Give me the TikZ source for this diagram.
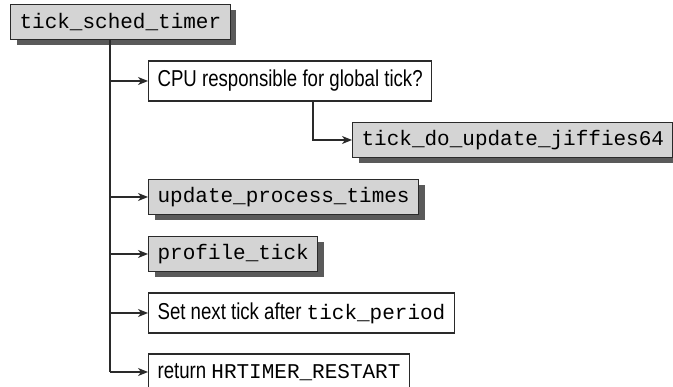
\documentclass[tikz,border=0pt]{standalone}
\usepackage{fontspec}
\setmonofont{Liberation Mono}
\newfontfamily\narrowsf[FakeStretch=0.81]{Liberation Sans}
\usetikzlibrary{positioning,arrows.meta,shadows,calc}
\definecolor{tboxgray}{HTML}{D4D4D4}
\definecolor{tshadow}{HTML}{5A5A5A}
\definecolor{tline}{HTML}{2A2A2A}

\begin{document}
\begin{tikzpicture}[x=1pt, y=-1pt,
  call/.style={draw=tline, line width=1.2pt, fill=tboxgray, anchor=west, inner xsep=9pt,
    minimum height=35pt, font=\fontsize{21}{24}\selectfont\ttfamily,
    drop shadow={shadow xshift=6pt, shadow yshift=-6pt, fill=tshadow, opacity=1}},
  stepbox/.style={draw=tline, line width=1.2pt, fill=white, anchor=west, inner xsep=9pt,
    minimum height=40pt, font=\fontsize{23}{26}\selectfont\narrowsf},
  arr/.style={-{Stealth[length=10pt, width=8pt, inset=3pt]}, line width=1.2pt, tline},
  trunkline/.style={line width=2.4pt, tline}]
\useasboundingbox (0,0) rectangle (673,387);
\node[call] (timer) at (10,22) {tick\_sched\_timer};
\node[stepbox] (cpu) at (148,81) {CPU responsible for global tick?};
\node[call] (jiffies) at (352,140) {tick\_do\_update\_jiffies64};
\node[call] (update) at (148,197) {update\_process\_times};
\node[call] (profile) at (148,254) {profile\_tick};
\node[stepbox] (period) at (148,313) {Set next tick after \fontsize{21}{24}\selectfont\ttfamily tick\_period};
\node[stepbox, minimum height=36pt] (ret) at (148,372) {return \fontsize{21}{24}\selectfont\ttfamily HRTIMER\_RESTART};
% call tree
\coordinate (top) at ($(timer.south west)+(100,0)$);
\draw[trunkline] (top) -- (top |- ret.west);
\foreach \n in {cpu,update,profile,period,ret}
  \draw[arr] (top |- \n.west) -- (\n.west);
\coordinate (elbow) at ($(cpu.south west)+(165,0)$);
\draw[arr] (elbow) |- (jiffies.west);
\end{tikzpicture}
\end{document}
